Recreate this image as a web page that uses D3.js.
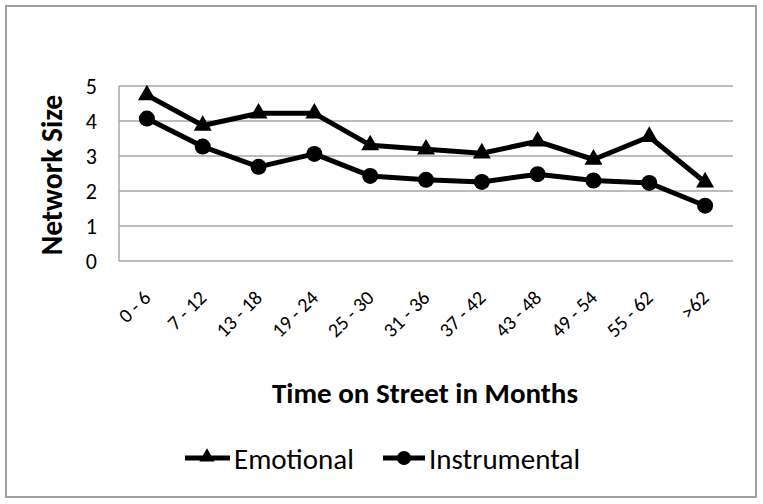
<!DOCTYPE html>
<html><head><meta charset="utf-8">
<script src="https://cdn.jsdelivr.net/npm/d3@7"></script>
<style>body{margin:0;background:#fff;} svg{display:block;font-family:Carlito, Lato, "Open Sans", sans-serif;}</style>
</head><body>
<script>
const categories = ["0 - 6","7 - 12","13 - 18","19 - 24","25 - 30","31 - 36","37 - 42","43 - 48","49 - 54","55 - 62",">62"];
const emotional = [4.74,3.87,4.22,4.22,3.31,3.19,3.08,3.42,2.9,3.55,2.25];
const instrumental = [4.07,3.27,2.69,3.06,2.43,2.32,2.26,2.48,2.3,2.23,1.58];
const yTicks = [0,1,2,3,4,5];
const seriesNames = ["Emotional","Instrumental"];

const W = 763, H = 504;
const svg = d3.select("body").append("svg").attr("width", W).attr("height", H);
svg.append("rect").attr("x",6).attr("y",6).attr("width",750).attr("height",491)
  .attr("fill","#fff").attr("stroke","#a0a0a0").attr("stroke-width",2);

const x = d3.scaleBand().domain(categories).range([119, 733]);
const y = d3.scaleLinear().domain([0,5]).range([261, 86]);
const cx = d => x(d) + x.bandwidth()/2;

// gridlines
svg.append("g").selectAll("line").data(yTicks).join("line")
  .attr("x1",119).attr("x2",733).attr("y1",d=>y(d)).attr("y2",d=>y(d))
  .attr("stroke","#a6a6a6").attr("stroke-width",1.5);
svg.append("line").attr("x1",119).attr("x2",119).attr("y1",y(5)).attr("y2",y(0))
  .attr("stroke","#a6a6a6").attr("stroke-width",1.5);

// y tick labels
svg.append("g").selectAll("text").data(yTicks).join("text")
  .attr("x",97).attr("y",d=>y(d)).attr("dy","0.36em").attr("text-anchor","end")
  .attr("font-size",22).attr("fill","#000").text(d=>d);

// x tick labels
svg.append("g").selectAll("text").data(categories).join("text")
  .attr("transform",d=>`translate(${cx(d)+5},${299}) rotate(-45)`)
  .attr("text-anchor","end").attr("font-size",20).attr("fill","#000").text(d=>d);

// axis titles
svg.append("text").attr("transform","translate(62,175) rotate(-90)").attr("text-anchor","middle")
  .attr("font-size",29.5).attr("font-weight","bold").text("Network Size");
svg.append("text").attr("x",425).attr("y",403).attr("text-anchor","middle")
  .attr("font-size",29).attr("font-weight","bold").text("Time on Street in Months");

const line = d3.line().x((d,i)=>cx(categories[i])).y(d=>y(d));
const tri = d3.symbol().type(d3.symbolTriangle).size(140);
const triL = d3.symbol().type(d3.symbolTriangle).size(100);

svg.append("path").datum(emotional).attr("d",line).attr("fill","none").attr("stroke","#000").attr("stroke-width",5).attr("stroke-linejoin","round");
svg.append("path").datum(instrumental).attr("d",line).attr("fill","none").attr("stroke","#000").attr("stroke-width",5).attr("stroke-linejoin","round");

svg.append("g").selectAll("path").data(emotional).join("path")
  .attr("transform",(d,i)=>`translate(${cx(categories[i])},${y(d)})`).attr("d",tri()).attr("fill","#000");
svg.append("g").selectAll("circle").data(instrumental).join("circle")
  .attr("cx",(d,i)=>cx(categories[i])).attr("cy",d=>y(d)).attr("r",8).attr("fill","#000");

// legend
const lg = svg.append("g");
lg.append("line").attr("x1",185).attr("x2",230).attr("y1",458).attr("y2",458).attr("stroke","#000").attr("stroke-width",5);
lg.append("path").attr("transform","translate(207,457)").attr("d",triL()).attr("fill","#000");
lg.append("text").attr("x",234).attr("y",469).attr("font-size",29).text(seriesNames[0]);
lg.append("line").attr("x1",383).attr("x2",425).attr("y1",458).attr("y2",458).attr("stroke","#000").attr("stroke-width",5);
lg.append("circle").attr("cx",404).attr("cy",458).attr("r",7).attr("fill","#000");
lg.append("text").attr("x",429).attr("y",469).attr("font-size",29).text(seriesNames[1]);
</script>
</body></html>
